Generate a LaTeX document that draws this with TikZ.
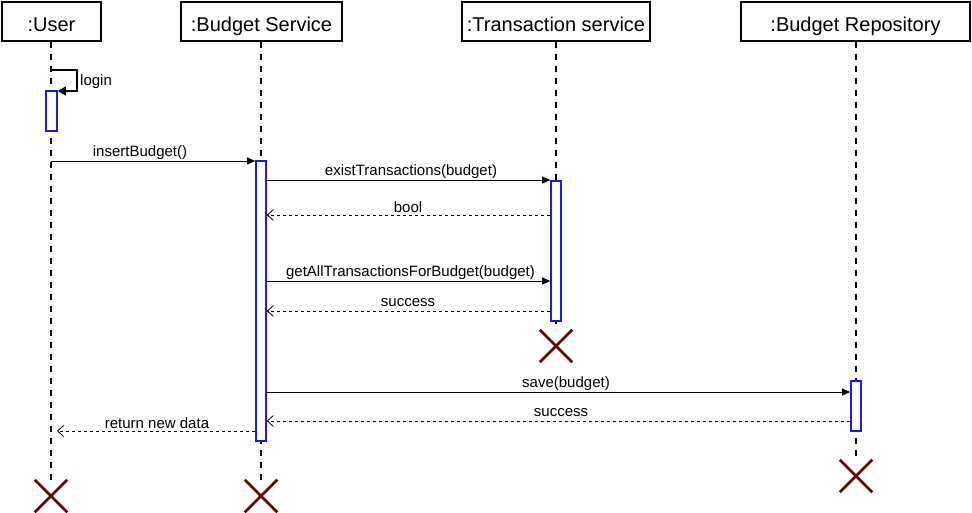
\documentclass[tikz,border=0pt]{standalone}
\usepackage{fontspec}
\setmainfont{Liberation Sans}
\usetikzlibrary{arrows.meta,shapes.misc}
\definecolor{actblue}{RGB}{25,25,235}
\definecolor{xred}{RGB}{102,0,0}
\begin{document}
\begin{tikzpicture}[x=1pt,y=-1pt,
  head/.style={draw,line width=1.5pt,minimum height=39pt,inner sep=0pt,text height=20.3pt,text depth=0pt,font=\fontsize{20}{24}\selectfont},
  life/.style={line width=1.5pt,dash pattern=on 6pt off 6pt},
  act/.style={draw=actblue,fill=white,line width=1.6pt,inner sep=0pt,minimum width=10pt},
  destroy/.style={cross out,draw=xred,line width=2.5pt,minimum size=30pt,inner sep=0pt},
  msg/.style={line width=0.8pt,-{Triangle[length=8pt,width=7pt]}},
  selfmsg/.style={line width=1.5pt,-{Triangle[length=8pt,width=9pt]}},
  ret/.style={line width=0.8pt,dash pattern=on 3pt off 3pt,-{Straight Barb[length=6pt,width=11pt,line width=0.8pt]}},
  lbl/.style={font=\fontsize{15}{18}\selectfont,inner sep=0pt,yshift=-1.8pt}]
\useasboundingbox[fill=white] (0,0) rectangle (972,513);

% headers
\node[head,minimum width=99pt]  (user) at (51.5,21.5) {:User};
\node[head,minimum width=161pt] (bs)   at (261.5,21.5) {:Budget Service};
\node[head,minimum width=188pt] (ts)   at (556,21.5) {:Transaction service};
\node[head,minimum width=229pt] (repo) at (855.5,21.5) {:Budget Repository};

% destruction marks
\node[destroy] (userX) at (51,496) {};
\node[destroy] (bsX)   at (261,496) {};
\node[destroy] (tsX)   at (556,346) {};
\node[destroy] (repoX) at (856,476) {};

% lifelines
\draw[life] (user.south -| userX) -- (userX.north);
\draw[life] (bs.south -| bsX) -- (bsX.north);
\draw[life] (ts.south -| tsX) -- (tsX.north);
\draw[life] (repo.south -| repoX) -- (repoX.north);

% activations
\node[act,minimum width=11pt,minimum height=40pt] (uAct) at (51.5,111) {};
\node[act,minimum height=280pt] (bsAct) at (261,301) {};
\node[act,minimum height=140pt] (tsAct) at (556,251) {};
\node[act,minimum height=50pt]  (repoAct) at (856,406) {};

% login (self message)
\coordinate (loginStart) at (51,70);
\draw[selfmsg] (loginStart) -- ++(26,0) -- ++(0,21) -- (uAct.east |- 0,91);
\node[lbl,anchor=west] (lLogin) at (80,80) {login};

% messages
\draw[msg] (userX |- 0,161) -- (bsAct.west |- 0,161);
\node[lbl] (lInsert) at (140,151) {insertBudget()};

\draw[msg] (bsAct.east |- 0,180) -- (tsAct.west |- 0,180);
\node[lbl] (lExist) at (411,170) {existTransactions(budget)};

\draw[ret] (tsAct.west |- 0,215) -- (bsAct.east |- 0,215);
\node[lbl] (lBool) at (408,205) {bool};

\draw[msg] (bsAct.east |- 0,281) -- (tsAct.west |- 0,281);
\node[lbl] (lGetAll) at (410.5,271) {getAllTransactionsForBudget(budget)};

\draw[ret] (tsAct.west |- 0,311) -- (bsAct.east |- 0,311);
\node[lbl] (lSucc1) at (408,301) {success};

\draw[msg] (bsAct.east |- 0,392) -- (repoAct.west |- 0,392);
\node[lbl] (lSave) at (566,382) {save(budget)};

\draw[ret] (repoAct.west |- 0,421) -- (bsAct.east |- 0,421);
\node[lbl] (lSucc2) at (561,411) {success};

\draw[ret,shorten >=6pt] (bsAct.west |- 0,431) -- (userX |- 0,431);
\node[lbl] (lReturn) at (157,421) {return new data};
\end{tikzpicture}
\end{document}
